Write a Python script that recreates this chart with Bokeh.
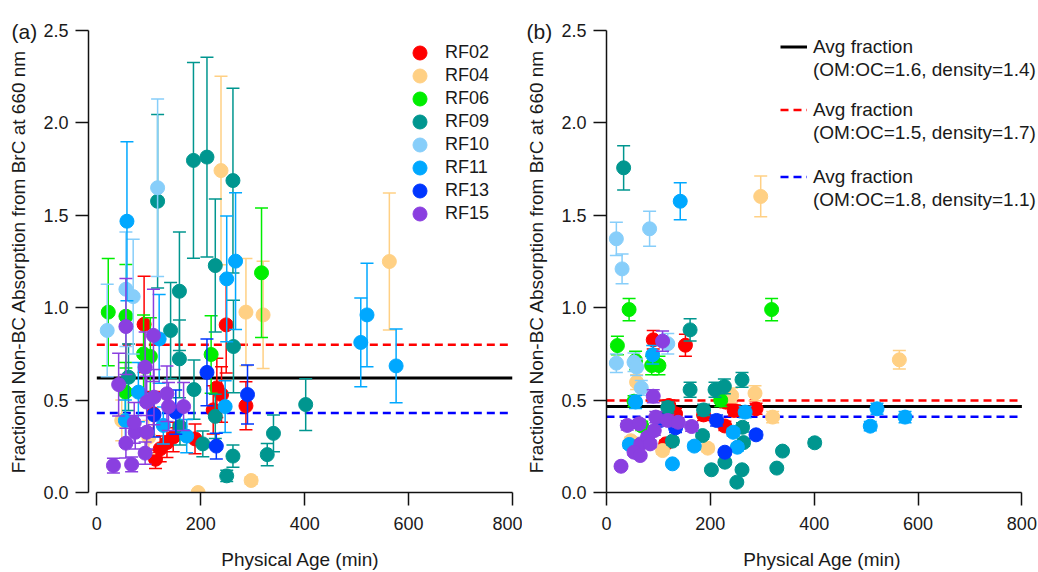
from bokeh.plotting import figure
from bokeh.models import (ColumnDataSource, Range1d, FixedTicker, NumeralTickFormatter,
                          Legend, LegendItem)
from bokeh.layouts import row
from bokeh.embed import file_html
from bokeh.resources import INLINE

FONT = "Liberation Sans"

flights = ["RF02", "RF04", "RF06", "RF09", "RF10", "RF11", "RF13", "RF15"]
colors = ["#FF0000", "#FFD084", "#00EE00", "#00968F", "#87CEFA", "#00A8FF", "#0036FF", "#8A3FE0"]

x_ticks = [0, 200, 400, 600, 800]
y_ticks = [0.0, 0.5, 1.0, 1.5, 2.0, 2.5]

# ---------------- Panel (a) ----------------
rf02_xa = [91, 249, 231, 240, 287, 224, 189, 113, 122, 147, 109, 135]
rf02_ya = [0.91, 0.907, 0.566, 0.53, 0.469, 0.447, 0.29, 0.18, 0.236, 0.30, 0.426, 0.27]
rf02_ea = [0.26, 0.26, 0.16, 0.15, 0.13, 0.13, 0.08, 0.05, 0.07, 0.08, 0.12, 0.08]

rf04_xa = [239, 287, 320, 563, 297, 195, 48, 100]
rf04_ya = [1.742, 0.976, 0.961, 1.25, 0.065, 0.0, 0.39, 0.30]
rf04_ea = [0.51, 0.29, 0.29, 0.37, 0.02, 0.0, 0.11, 0.09]

rf06_xa = [22, 56, 90, 103, 220, 317, 55]
rf06_ya = [0.976, 0.954, 0.75, 0.736, 0.747, 1.189, 0.543]
rf06_ea = [0.29, 0.28, 0.21, 0.21, 0.21, 0.35, 0.16]

rf09_xa = [186, 212, 262, 228, 159, 117, 142, 159, 263, 187, 228, 204, 262, 250, 340, 328, 402, 61, 160]
rf09_ya = [1.797, 1.815, 1.688, 1.228, 1.089, 1.576, 0.877, 0.723, 0.79, 0.557, 0.412, 0.263,
           0.197, 0.09, 0.32, 0.205, 0.476, 0.624, 0.357]
rf09_ea = [0.53, 0.54, 0.50, 0.36, 0.32, 0.47, 0.26, 0.21, 0.25, 0.16, 0.12, 0.07,
           0.06, 0.03, 0.10, 0.06, 0.14, 0.18, 0.10]

rf10_xa = [117, 56, 70, 20]
rf10_ya = [1.649, 1.10, 1.06, 0.877]
rf10_ea = [0.48, 0.31, 0.31, 0.25]

rf11_xa = [58, 250, 267, 520, 508, 576, 120, 80, 55, 128, 173, 247]
rf11_ya = [1.468, 1.156, 1.252, 0.961, 0.812, 0.685, 0.831, 0.543, 0.39, 0.363, 0.305, 0.465]
rf11_ea = [0.43, 0.34, 0.37, 0.28, 0.24, 0.20, 0.24, 0.16, 0.11, 0.10, 0.09, 0.14]

rf13_xa = [212, 290, 230, 110, 152]
rf13_ya = [0.65, 0.53, 0.251, 0.42, 0.435]
rf13_ea = [0.18, 0.16, 0.07, 0.12, 0.12]

rf15_xa = [32, 67, 93, 56, 74, 96, 42, 93, 56, 109, 96, 110, 138, 167, 135, 72]
rf15_ya = [0.146, 0.152, 0.213, 0.267, 0.326, 0.326, 0.584, 0.678, 0.898, 0.85, 0.489, 0.516,
           0.465, 0.465, 0.534, 0.377]
rf15_ea = [0.04, 0.04, 0.06, 0.08, 0.09, 0.09, 0.17, 0.19, 0.26, 0.25, 0.14, 0.15,
           0.13, 0.13, 0.15, 0.11]

# ---------------- Panel (b) ----------------
rf02_xb = [90, 152, 230, 246, 288, 120, 133, 114, 228, 187, 109]
rf02_yb = [0.826, 0.797, 0.489, 0.444, 0.453, 0.471, 0.426, 0.263, 0.36, 0.42, 0.40]
rf02_eb = [0.05, 0.06, 0.03, 0.03, 0.03, 0.03, 0.03, 0.02, 0.025, 0.03, 0.03]

rf04_xb = [297, 564, 286, 320, 195, 47, 58, 108, 241]
rf04_yb = [1.602, 0.718, 0.537, 0.408, 0.24, 0.28, 0.597, 0.227, 0.525]
rf04_eb = [0.11, 0.05, 0.04, 0.03, 0.02, 0.02, 0.04, 0.02, 0.04]

rf06_xb = [43.5, 318, 21, 56, 87, 101, 53, 220, 68]
rf06_yb = [0.99, 0.99, 0.795, 0.714, 0.687, 0.687, 0.494, 0.50, 0.36]
rf06_eb = [0.06, 0.06, 0.05, 0.05, 0.05, 0.05, 0.03, 0.035, 0.025]

rf09_xb = [33, 161, 261, 161, 209, 227, 187, 401, 339, 328, 261, 202, 251, 228, 185, 262, 264, 118, 127]
rf09_yb = [1.757, 0.88, 0.61, 0.556, 0.556, 0.574, 0.447, 0.269, 0.224, 0.132, 0.123, 0.123,
           0.056, 0.164, 0.308, 0.353, 0.27, 0.46, 0.278]
rf09_eb = [0.12, 0.06, 0.04, 0.04, 0.04, 0.04, 0.03, 0.02, 0.015, 0.01, 0.01, 0.01,
           0.005, 0.012, 0.02, 0.025, 0.02, 0.03, 0.02]

rf10_xb = [19, 30, 83, 19, 118, 53, 58, 67]
rf10_yb = [1.373, 1.21, 1.427, 0.70, 0.805, 0.705, 0.678, 0.566]
rf10_eb = [0.09, 0.08, 0.095, 0.05, 0.055, 0.05, 0.045, 0.04]

rf11_xb = [142, 89, 56, 508, 521, 575, 267, 244, 252, 169, 127, 44]
rf11_yb = [1.576, 0.745, 0.49, 0.359, 0.453, 0.408, 0.435, 0.326, 0.245, 0.251, 0.155, 0.26]
rf11_eb = [0.10, 0.05, 0.035, 0.025, 0.03, 0.03, 0.03, 0.02, 0.02, 0.02, 0.01, 0.02]

rf13_xb = [212, 288, 228, 104, 133]
rf13_yb = [0.39, 0.312, 0.218, 0.39, 0.35]
rf13_eb = [0.03, 0.02, 0.015, 0.03, 0.025]

rf15_xb = [28, 40, 63, 95, 118, 138, 164, 66, 79, 92, 53, 65, 84, 90, 108]
rf15_yb = [0.142, 0.363, 0.372, 0.408, 0.39, 0.38, 0.357, 0.263, 0.299, 0.335, 0.218, 0.2,
           0.263, 0.521, 0.819]
rf15_eb = [0.01, 0.025, 0.025, 0.03, 0.03, 0.025, 0.025, 0.02, 0.02, 0.025, 0.015, 0.015,
           0.02, 0.035, 0.055]

# Average fraction lines: [solid black, dashed red, dashed blue]
avg_a = [0.62, 0.80, 0.43]
avg_b = [0.465, 0.498, 0.41]
avg_labels = ["(OM:OC=1.6, density=1.4)", "(OM:OC=1.5, density=1.7)", "(OM:OC=1.8, density=1.1)"]

data_a = [(rf02_xa, rf02_ya, rf02_ea), (rf04_xa, rf04_ya, rf04_ea), (rf06_xa, rf06_ya, rf06_ea),
          (rf09_xa, rf09_ya, rf09_ea), (rf10_xa, rf10_ya, rf10_ea), (rf11_xa, rf11_ya, rf11_ea),
          (rf13_xa, rf13_ya, rf13_ea), (rf15_xa, rf15_ya, rf15_ea)]
data_b = [(rf02_xb, rf02_yb, rf02_eb), (rf04_xb, rf04_yb, rf04_eb), (rf06_xb, rf06_yb, rf06_eb),
          (rf09_xb, rf09_yb, rf09_eb), (rf10_xb, rf10_yb, rf10_eb), (rf11_xb, rf11_yb, rf11_eb),
          (rf13_xb, rf13_yb, rf13_eb), (rf15_xb, rf15_yb, rf15_eb)]

line_styles = [("#000000", "solid", 3), ("#FF0000", "8 5", 2.5), ("#0000FF", "8 5", 2.5)]


def make_fig(data, avgs, x_start, x_end, width, left, right, tag, tag_offset):
    p = figure(width=width, height=572, x_range=Range1d(x_start, x_end),
               y_range=Range1d(y_ticks[0], y_ticks[-1]),
               output_backend="svg", toolbar_location=None,
               min_border_left=left, min_border_right=right, min_border_top=30,
               min_border_bottom=80)
    p.outline_line_color = None
    p.xgrid.visible = False
    p.ygrid.visible = False
    p.background_fill_color = "white"
    p.border_fill_color = "white"

    # panel tag "(a)" / "(b)" as the title, shifted to the left of the y axis
    p.title.text = tag
    p.title.align = "left"
    p.title.offset = tag_offset
    p.title.vertical_align = "bottom"
    p.title.standoff = -24
    p.title.text_font = FONT
    p.title.text_font_size = "21px"
    p.title.text_font_style = "normal"
    p.title.text_color = "#1a1a1a"

    xa = p.xaxis[0]
    xa.ticker = FixedTicker(ticks=x_ticks, minor_ticks=[])
    xa.bounds = (x_ticks[0], x_ticks[-1])
    xa.axis_label = "Physical Age (min)"
    ya = p.yaxis[0]
    ya.ticker = FixedTicker(ticks=y_ticks, minor_ticks=[])
    ya.formatter = NumeralTickFormatter(format="0.0")
    ya.axis_label = "Fractional Non-BC Absorption from BrC at 660 nm"
    for ax in (xa, ya):
        ax.axis_line_width = 1.5
        ax.axis_line_color = "#111111"
        ax.major_tick_line_width = 1.5
        ax.major_tick_line_color = "#111111"
        ax.major_tick_in = 0
        ax.major_tick_out = 13
        ax.minor_tick_line_color = None
        ax.major_label_text_font = FONT
        ax.major_label_text_font_size = "18px"
        ax.major_label_text_color = "#1a1a1a"
        ax.axis_label_text_font = FONT
        ax.axis_label_text_font_size = "19px"
        ax.axis_label_text_font_style = "normal"
        ax.axis_label_text_color = "#1a1a1a"
    xa.major_label_standoff = 11
    xa.axis_label_standoff = 16
    ya.major_label_standoff = 7
    ya.axis_label_standoff = 11

    avg_renderers = []
    for avg, (c, dash, lw) in zip(avgs, line_styles):
        r = p.line(x=[x_ticks[0], x_ticks[-1]], y=[avg, avg], line_color=c,
                   line_dash=dash, line_width=lw)
        avg_renderers.append(r)

    point_renderers = []
    for (xs, ys, es), c in zip(data, colors):
        lo = [y - e for y, e in zip(ys, es)]
        hi = [y + e for y, e in zip(ys, es)]
        src = ColumnDataSource(dict(x=xs, y=ys, lo=lo, hi=hi))
        p.segment(x0="x", y0="lo", x1="x", y1="hi", source=src, line_color=c, line_width=1.5)
        p.scatter(x="x", y="lo", source=src, marker="dash", size=13, line_color=c, line_width=1.5)
        p.scatter(x="x", y="hi", source=src, marker="dash", size=13, line_color=c, line_width=1.5)
        r = p.scatter(x="x", y="y", source=src, marker="circle", size=14,
                      fill_color=c, line_color=c)
        point_renderers.append(r)
    return p, avg_renderers, point_renderers


pa, avg_ra, pts_a = make_fig(data_a, avg_a, -16, 800, 522, 88, 10, "(a)", -77)
pb, avg_rb, pts_b = make_fig(data_b, avg_b, 0, 832, 516, 84, 0, "(b)", -80)

# Legend for flights (panel a): one small legend per row
for i, (f, r) in enumerate(zip(flights, pts_a)):
    lg = Legend(items=[LegendItem(label=f, renderers=[r])],
                location=(314, 422 - 23 * i), orientation="vertical",
                glyph_width=35, glyph_height=35, spacing=0, label_standoff=8,
                padding=0, margin=0, border_line_color=None, background_fill_alpha=0,
                label_text_font=FONT, label_text_font_size="18px", label_text_color="#1a1a1a")
    pa.add_layout(lg)

# Legends for average lines (panel b)
leg_locs = [(174, 411), (174, 348), (174, 281)]
for r, sub, loc in zip(avg_rb, avg_labels, leg_locs):
    dummy = pb.line(x=[], y=[], line_alpha=0)
    lg = Legend(items=[LegendItem(label="Avg fraction", renderers=[r]),
                       LegendItem(label=sub, renderers=[dummy])],
                location=loc, orientation="vertical",
                glyph_width=27, glyph_height=23, label_height=23, spacing=0, label_standoff=6,
                padding=0, margin=0, border_line_color=None, background_fill_alpha=0,
                label_text_font=FONT, label_text_font_size="19px", label_text_color="#1a1a1a")
    pb.add_layout(lg)

layout = row(pa, pb)
open("out.html", "w").write(file_html(layout, INLINE))
